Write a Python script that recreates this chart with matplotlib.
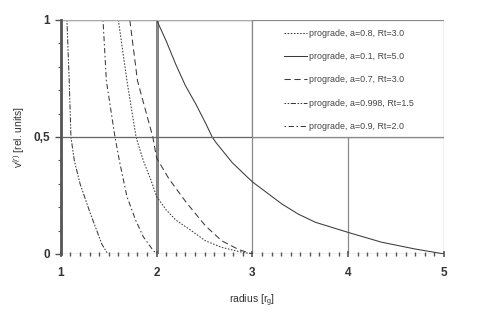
import matplotlib
matplotlib.use("Agg")
import matplotlib.pyplot as plt
from matplotlib.patches import Rectangle
from matplotlib.ticker import MultipleLocator, FixedLocator

plt.rcParams['font.family'] = ['Liberation Sans', 'DejaVu Sans']
plt.rcParams['mathtext.fontset'] = 'custom'
plt.rcParams['mathtext.rm'] = 'Liberation Sans'
plt.rcParams['mathtext.it'] = 'Liberation Sans:italic'

# curves: radius [r_g] vs v^(r)
x_a08 = [1.60, 1.69, 1.785, 1.86, 1.94, 2.00, 2.10, 2.20, 2.34, 2.51, 2.68, 2.86, 3.00]
y_a08 = [1.00, 0.74, 0.50, 0.40, 0.316, 0.245, 0.188, 0.145, 0.106, 0.056, 0.028, 0.01, 0.0]

x_a01 = [2.00, 2.10, 2.20, 2.30, 2.41, 2.51, 2.58, 2.62, 2.79, 3.00, 3.31, 3.48,
         3.66, 4.00, 4.35, 4.70, 5.00]
y_a01 = [1.00, 0.91, 0.81, 0.72, 0.64, 0.56, 0.50, 0.476, 0.39, 0.308, 0.213, 0.17,
         0.135, 0.092, 0.05, 0.021, 0.0]

x_a07 = [1.72, 1.80, 1.96, 2.00, 2.13, 2.31, 2.51, 2.68, 2.86, 3.00]
y_a07 = [1.00, 0.74, 0.50, 0.41, 0.32, 0.22, 0.12, 0.056, 0.018, 0.0]

x_a0998 = [1.063, 1.075, 1.087, 1.105, 1.14, 1.20, 1.31, 1.43, 1.49]
y_a0998 = [1.00, 0.87, 0.74, 0.50, 0.40, 0.30, 0.17, 0.04, 0.0]

x_a09 = [1.44, 1.475, 1.565, 1.615, 1.69, 1.78, 1.86, 1.96, 2.00]
y_a09 = [1.00, 0.74, 0.50, 0.39, 0.245, 0.145, 0.074, 0.017, 0.0]

labels = ['prograde, a=0.8, Rt=3.0', 'prograde, a=0.1, Rt=5.0',
          'prograde, a=0.7, Rt=3.0', 'prograde, a=0.998, Rt=1.5',
          'prograde, a=0.9, Rt=2.0']

xticks = [1, 2, 3, 4, 5]
yticks = [0, 0.5, 1]
ytick_labels = ['0', '0,5', '1']

line_col = '#3a3a3a'
grid_col = '#8a8a8a'

fig = plt.figure(figsize=(4.91, 3.17), dpi=100)
ax = fig.add_axes([0.124, 0.199, 0.780, 0.738])

ax.plot(x_a08, y_a08, color=line_col, lw=0.75, dashes=(1.5, 1.5), label=labels[0])
ax.plot(x_a01, y_a01, color=line_col, lw=0.75, label=labels[1])
ax.plot(x_a07, y_a07, color=line_col, lw=0.75, dashes=(6, 3.5), label=labels[2])
ax.plot(x_a0998, y_a0998, color=line_col, lw=0.75,
        dashes=(1.5, 1.5, 1.5, 1.5, 5, 1.5), label=labels[3])
ax.plot(x_a09, y_a09, color=line_col, lw=0.75,
        dashes=(1.5, 2.5, 5, 2.5), label=labels[4])

ax.set_xlim(1, 5)
ax.set_ylim(0, 1)

# grid: light lines, heavier at the left edge and at r=2
for sp in ['top', 'right', 'bottom']:
    ax.spines[sp].set_visible(False)
ax.spines['left'].set_color('#555555')
ax.spines['left'].set_linewidth(2.0)
ax.grid(True, color=grid_col, lw=0.9)
ax.axvline(2, color='#555555', lw=1.8, zorder=1.5)
ax.axhline(1, color='#aaaaaa', lw=0.9)
ax.axhline(0.5, color='#666666', lw=0.8)

# white legend box in the upper right cell
ax.add_patch(Rectangle((3, 0.5), 2, 0.5, facecolor='white', edgecolor=grid_col,
                       lw=0.9, zorder=2.5))

ax.xaxis.set_major_locator(FixedLocator(xticks))
ax.xaxis.set_minor_locator(MultipleLocator(0.1))
ax.yaxis.set_major_locator(FixedLocator(yticks))
ax.yaxis.set_minor_locator(MultipleLocator(0.1))
ax.set_yticklabels(ytick_labels)

ax.tick_params(axis='x', which='major', direction='inout', length=5, width=1.2,
               color='#555555', pad=7, labelsize=8.5, labelcolor='#333333')
ax.tick_params(axis='x', which='minor', direction='inout', length=3, width=1.0,
               color='#555555')
ax.tick_params(axis='y', which='major', direction='out', length=4, width=1.0,
               color='#555555', pad=4, labelsize=8.5, labelcolor='#333333')
ax.tick_params(axis='y', which='minor', direction='out', length=2, width=0.8,
               color='#555555')
for t in ax.get_xticklabels() + ax.get_yticklabels():
    t.set_fontweight('bold')

ax.set_xlabel('radius [r$_{\\rm g}$]', fontsize=7.5, color='#333333', labelpad=10)
ax.set_ylabel('v$^{(\\mathit{r})}$ [rel. units]', fontsize=7.5, color='#333333')
ax.yaxis.set_label_coords(-0.088, 0.5)

leg = ax.legend(loc='upper left', bbox_to_anchor=(3.25, 0.995),
                bbox_transform=ax.transData, frameon=False, fontsize=6.4,
                labelspacing=1.62, handlelength=2.6, handletextpad=0.2,
                borderaxespad=0, borderpad=0.85)
leg.set_zorder(3)
for t in leg.get_texts():
    t.set_color('#444444')

fig.savefig('out.png', dpi=100)
